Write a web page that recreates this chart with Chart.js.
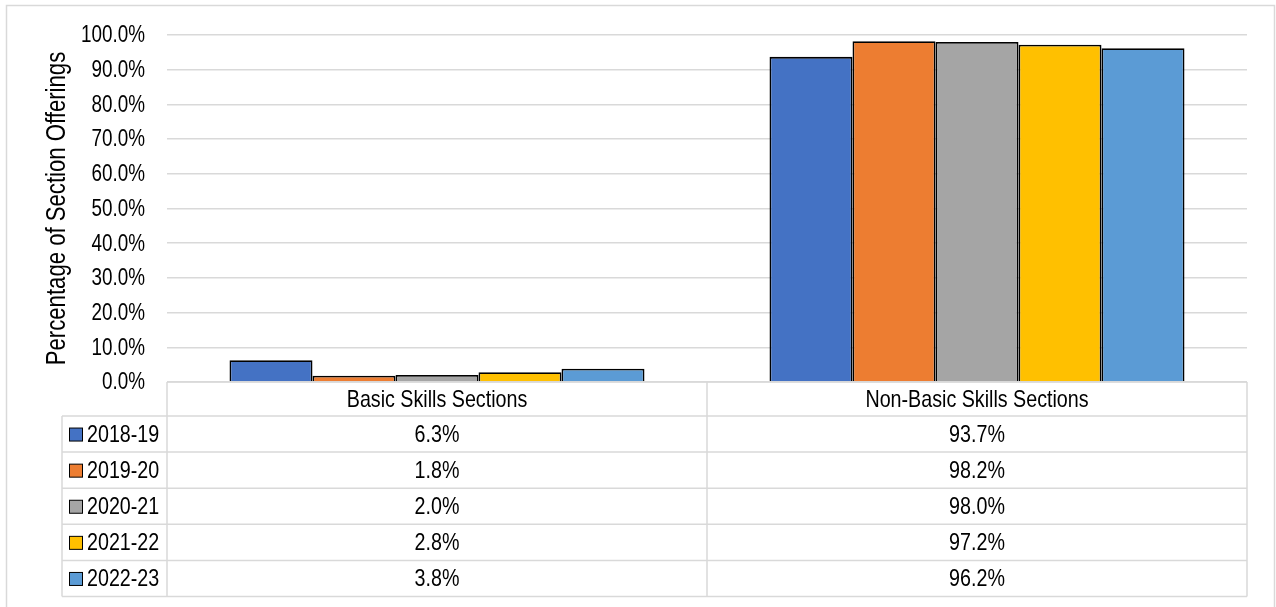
<!DOCTYPE html>
<html>
<head>
<meta charset="utf-8">
<script src="https://cdn.jsdelivr.net/npm/chart.js@4.4.1/dist/chart.umd.min.js"></script>
<style>
  html, body { margin: 0; padding: 0; background: #fff; }
  #wrap { width: 1276px; height: 607px; position: relative; }
</style>
</head>
<body>
<div id="wrap"><canvas id="offeringsChart"></canvas></div>
<script>
const categories = ['Basic Skills Sections', 'Non-Basic Skills Sections'];
const years = ['2018-19', '2019-20', '2020-21', '2021-22', '2022-23'];
const values2018 = [6.3, 93.7];
const values2019 = [1.8, 98.2];
const values2020 = [2.0, 98.0];
const values2021 = [2.8, 97.2];
const values2022 = [3.8, 96.2];
const seriesValues = [values2018, values2019, values2020, values2021, values2022];
const seriesColors = ['#4472C4', '#ED7D31', '#A5A5A5', '#FFC000', '#5B9BD5'];
const yTickValues = [0, 10, 20, 30, 40, 50, 60, 70, 80, 90, 100];
const yTitle = 'Percentage of Section Offerings';

const FONT = "'Liberation Sans', Arial, sans-serif";
const NARROW = 0.82; // no Arial Narrow here, so squeeze Liberation Sans
const LINE = '#d9d9d9';

document.addEventListener('DOMContentLoaded', () => {
    Chart.defaults.devicePixelRatio = 1;
    initializeChart();
});

// text squeezed sideways to look like Arial Narrow
function narrowText(ctx, text, x, y, align, size, angle = 0) {
    ctx.save();
    ctx.translate(x, y);
    if (angle) ctx.rotate(angle);
    ctx.scale(NARROW, 1);
    ctx.font = `${size}px ${FONT}`;
    ctx.textAlign = align;
    ctx.textBaseline = 'middle';
    ctx.fillStyle = '#000';
    ctx.fillText(text, 0, 0);
    ctx.restore();
}

const frame = {
    id: 'frame',
    beforeDraw(chart) {
        const { ctx, width } = chart;
        ctx.save();
        ctx.strokeStyle = LINE;
        ctx.lineWidth = 1.5;
        ctx.beginPath();
        ctx.moveTo(6.5, chart.height);
        ctx.lineTo(6.5, 5.5);
        ctx.lineTo(width - 1.5, 5.5);
        ctx.lineTo(width - 1.5, chart.height);
        ctx.stroke();
        ctx.restore();
    }
};

/**
 * Y tick labels and axis title, drawn by hand so they can be narrow.
 */
const axisText = {
    id: 'axisText',
    afterDraw(chart) {
        const { ctx, chartArea: area, scales: { y } } = chart;
        y.ticks.forEach(t => {
            narrowText(ctx, `${t.value.toFixed(1)}%`, 145, y.getPixelForValue(t.value) + 1, 'right', 23);
        });
        narrowText(ctx, yTitle, 58, (area.top + area.bottom) / 2, 'center', 27, -Math.PI / 2);
    }
};

/**
 * Excel-style data table under the plot, using the x scale for the columns.
 */
const dataTable = {
    id: 'dataTable',
    afterDraw(chart) {
        const { ctx, chartArea: area, scales: { x } } = chart;
        const headH = 34;
        const rowH = 36.1;
        const keyLeft = 62;
        const top = area.bottom;
        const bottom = top + headH + rowH * years.length;
        const centers = categories.map((_, i) => x.getPixelForValue(i));
        const divider = (centers[0] + centers[1]) / 2;

        ctx.save();
        ctx.strokeStyle = LINE;
        ctx.lineWidth = 1.5;
        ctx.beginPath();
        ctx.moveTo(area.left, top);
        ctx.lineTo(area.right, top);
        for (let r = 0; r <= years.length; r++) {
            const ry = top + headH + rowH * r;
            ctx.moveTo(keyLeft, ry);
            ctx.lineTo(area.right, ry);
        }
        ctx.moveTo(keyLeft, top + headH);
        ctx.lineTo(keyLeft, bottom);
        [area.left, divider, area.right].forEach(vx => {
            ctx.moveTo(vx, top);
            ctx.lineTo(vx, bottom);
        });
        ctx.stroke();
        ctx.restore();

        categories.forEach((c, i) => narrowText(ctx, c, centers[i], top + headH / 2 + 1, 'center', 24));

        years.forEach((yr, r) => {
            const cy = top + headH + rowH * r + rowH / 2 + 1;
            ctx.save();
            ctx.fillStyle = seriesColors[r];
            ctx.fillRect(69.5, cy - 7, 13, 13);
            ctx.strokeStyle = '#000';
            ctx.lineWidth = 1;
            ctx.strokeRect(69.5, cy - 7, 13, 13);
            ctx.restore();
            narrowText(ctx, yr, 87, cy, 'left', 24);
            seriesValues[r].forEach((v, i) => narrowText(ctx, `${v.toFixed(1)}%`, centers[i], cy, 'center', 24));
        });
    }
};

function initializeChart() {
    const ctx = document.getElementById('offeringsChart').getContext('2d');

    new Chart(ctx, {
        type: 'bar',
        data: {
            labels: categories,
            datasets: years.map((yr, i) => ({
                label: yr,
                data: seriesValues[i],
                backgroundColor: seriesColors[i],
                borderColor: '#000',
                borderWidth: 1.8,
                borderSkipped: 'bottom',
                categoryPercentage: 0.7685,
                barPercentage: 1
            }))
        },
        options: {
            responsive: true,
            maintainAspectRatio: false,
            animation: false,
            layout: { padding: { left: 0, top: 35, right: 29, bottom: 225 } },
            plugins: {
                legend: { display: false },
                tooltip: { enabled: false }
            },
            scales: {
                x: { display: false },
                y: {
                    min: 0,
                    max: 100,
                    afterBuildTicks: scale => {
                        scale.ticks = yTickValues.map(v => ({ value: v }));
                    },
                    afterFit: scale => { scale.width = 167; },
                    ticks: { display: false },
                    grid: { color: LINE, lineWidth: 1.5, drawTicks: false },
                    border: { display: false }
                }
            }
        },
        plugins: [frame, axisText, dataTable]
    });
}
</script>
</body>
</html>
